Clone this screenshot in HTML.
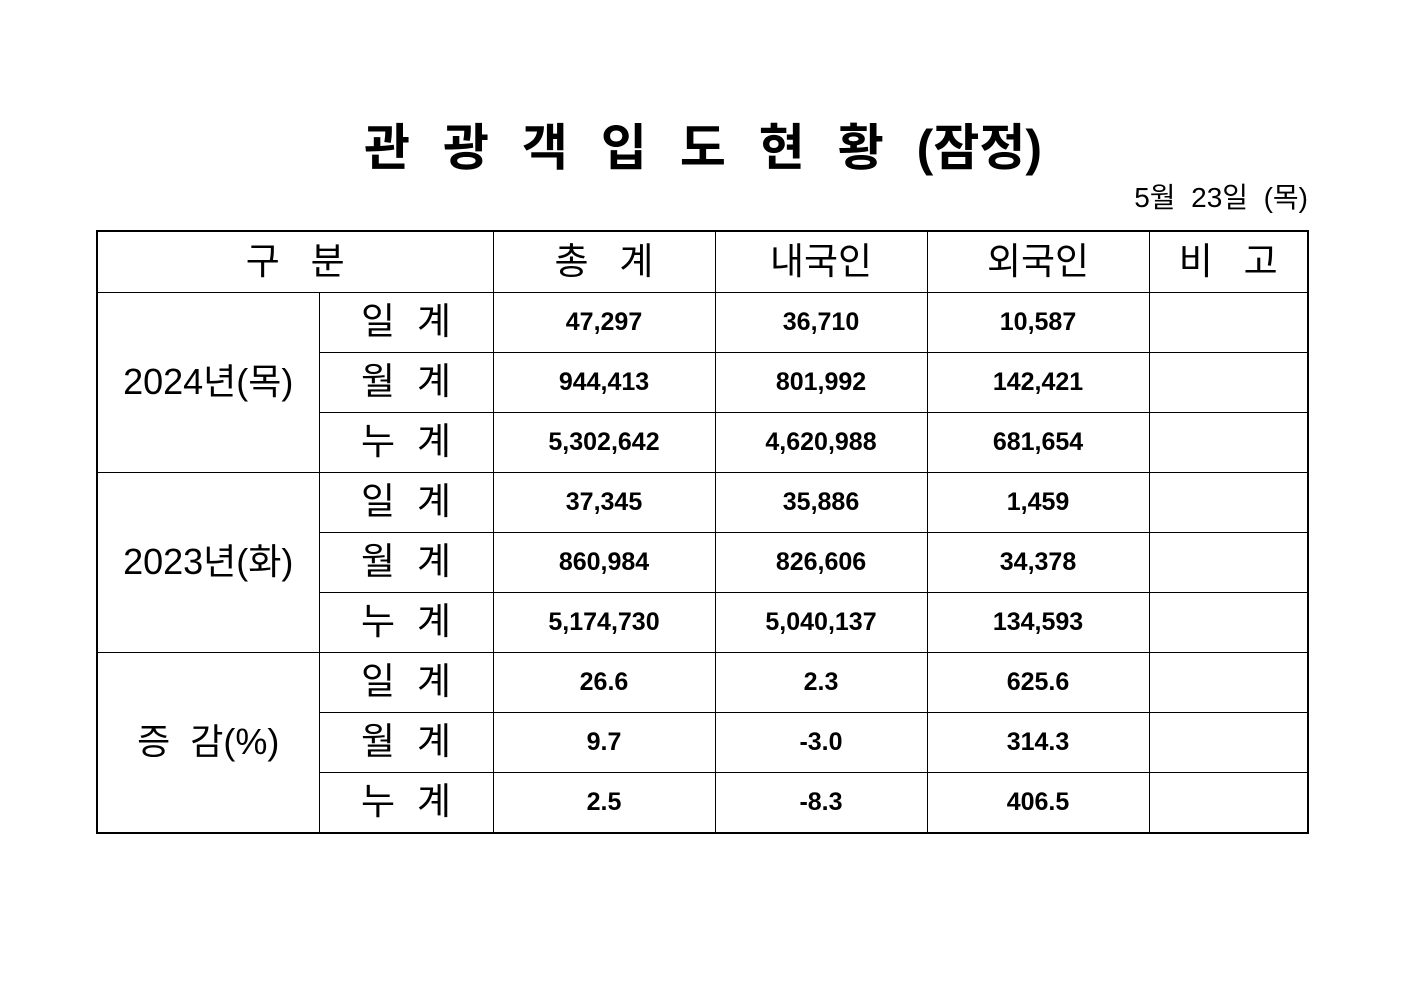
<!DOCTYPE html>
<html><head><meta charset="utf-8"><style>
body{margin:0;width:1403px;height:992px;background:#fff;position:relative;font-family:"Liberation Sans","Noto Sans CJK KR","NanumGothic",sans-serif;color:#000;overflow:hidden}
.title{position:absolute;left:364px;top:112px;width:678px;height:64px;font-size:50px;font-weight:bold;display:flex;justify-content:space-between;align-items:center;white-space:nowrap}
.date{position:absolute;right:95px;top:176px;font-size:28px;white-space:pre}
table{position:absolute;left:96px;top:230px;border-collapse:collapse;border:2px solid #000;table-layout:fixed}
td{border:1px solid #000;text-align:center;padding:0;height:59px;line-height:1;overflow:hidden}
td span{position:relative;top:-1px}
.h{font-size:37px}
.l{font-size:36px}
.s{font-size:37px;letter-spacing:22px;padding-left:22px}
.n{font-size:25px;font-weight:bold}
</style></head><body>
<div class="title"><span>관</span><span>광</span><span>객</span><span>입</span><span>도</span><span>현</span><span>황</span><span>(잠정)</span></div>
<div class="date">5월  23일  (목)</div>
<table>
<colgroup><col style="width:222px"><col style="width:174px"><col style="width:222px"><col style="width:212px"><col style="width:222px"><col style="width:159px"></colgroup>
<tr><td colspan="2" class="h" style="height:60px"><span>구 &nbsp; 분</span></td><td class="h"><span>총 &nbsp; 계</span></td><td class="h"><span>내국인</span></td><td class="h"><span>외국인</span></td><td class="h"><span>비 &nbsp; 고</span></td></tr>
<tr><td rowspan="3" class="l"><span>2024년(목)</span></td><td class="s"><span>일계</span></td><td class="n">47,297</td><td class="n">36,710</td><td class="n">10,587</td><td></td></tr>
<tr><td class="s"><span>월계</span></td><td class="n">944,413</td><td class="n">801,992</td><td class="n">142,421</td><td></td></tr>
<tr><td class="s"><span>누계</span></td><td class="n">5,302,642</td><td class="n">4,620,988</td><td class="n">681,654</td><td></td></tr>
<tr><td rowspan="3" class="l"><span>2023년(화)</span></td><td class="s"><span>일계</span></td><td class="n">37,345</td><td class="n">35,886</td><td class="n">1,459</td><td></td></tr>
<tr><td class="s"><span>월계</span></td><td class="n">860,984</td><td class="n">826,606</td><td class="n">34,378</td><td></td></tr>
<tr><td class="s"><span>누계</span></td><td class="n">5,174,730</td><td class="n">5,040,137</td><td class="n">134,593</td><td></td></tr>
<tr><td rowspan="3" class="l"><span>증 &nbsp;감(%)</span></td><td class="s"><span>일계</span></td><td class="n">26.6</td><td class="n">2.3</td><td class="n">625.6</td><td></td></tr>
<tr><td class="s"><span>월계</span></td><td class="n">9.7</td><td class="n">-3.0</td><td class="n">314.3</td><td></td></tr>
<tr><td class="s"><span>누계</span></td><td class="n">2.5</td><td class="n">-8.3</td><td class="n">406.5</td><td></td></tr>
</table>
</body></html>
